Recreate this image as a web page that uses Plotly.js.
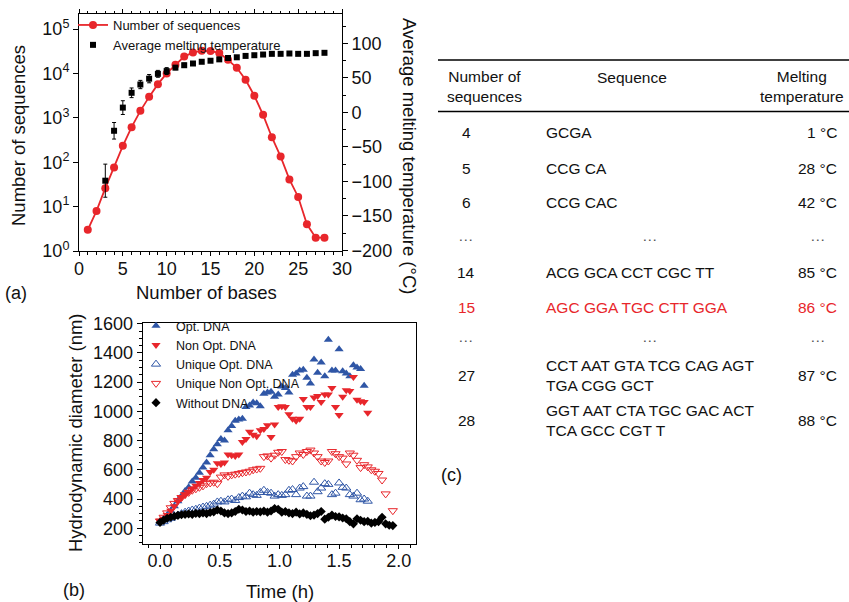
<!DOCTYPE html>
<html>
<head>
<meta charset="utf-8">
<script src="https://cdn.plot.ly/plotly-3.0.1.min.js"></script>
<style>html,body{margin:0;padding:0;background:#fff;}#chart{width:849px;height:602px;}</style>
</head>
<body>
<div id="chart"></div>
<script>
// ---------- Panel (a) data ----------
const bases = [1,2,3,4,5,6,7,8,9,10,11,12,13,14,15,16,17,18,19,20,21,22,23,24,25,26,27,28];
const numSequences = [3, 8, 26, 76, 234, 616, 1440, 2970, 5750, 10000, 15700, 24000, 29800, 32400, 32000, 29000, 20300, 13400, 7200, 3150, 1170, 366, 134, 41, 16.5, 4, 2, 2];
const tmBases = [3,4,5,6,7,8,9,10,11,12,13,14,15,16,17,18,19,20,21,22,23,24,25,26,27,28];
const tmAverage = [-99, -26.6, 7, 28.5, 40.5, 49, 56, 60, 65, 68.5, 71, 73.5, 75, 77, 79, 80, 82, 83, 84, 85, 85, 85.5, 85, 85, 86, 86.5];
const tmError = [24, 12, 10, 7, 6, 6, 5, 5, 3, 3, 2, 2, 2, 1.5, 1.5, 1.5, 1.5, 1.5, 1.5, 1.5, 1.5, 1.5, 1.5, 1.5, 1.5, 1.5];
const logTickVals = [1, 10, 100, 1000, 10000, 100000];
const logTickText = ['10<sup>0</sup>','10<sup>1</sup>','10<sup>2</sup>','10<sup>3</sup>','10<sup>4</sup>','10<sup>5</sup>'];

// ---------- Panel (b) data ----------
const timeH = [0,0.03,0.06,0.09,0.12,0.15,0.18,0.21,0.24,0.27,0.30,0.33,0.36,0.39,0.42,0.45,0.48,0.51,0.54,0.57,0.60,0.63,0.66,0.69,0.72,0.75,0.78,0.81,0.84,0.87,0.90,0.93,0.96,0.99,1.02,1.05,1.08,1.11,1.14,1.17,1.20,1.23,1.26,1.29,1.32,1.35,1.38,1.41,1.44,1.47,1.50,1.53,1.56,1.59,1.62,1.65,1.68,1.71,1.74,1.77,1.80,1.83,1.86,1.89,1.92,1.95];
const optDNA = [245, 265, 290, 320, 350, 385, 420, 455, 480, 520, 545, 580, 615, 650, 700, 740, 775, 810, 800, 870, 900, 935, 945, 950, 1030, 1040, 1060, 1055, 1035, 1120, 1130, 1135, 1100, 1115, 1170, 1160, 1130, 1250, 1260, 1280, 1285, 1230, 1190, 1355, 1265, 1335, 1240, 1490, 1280, 1280, 1425, 1275, 1260, 1240, 1315, 1300, 1290, 1175];
const nonOptDNA = [250, 265, 290, 320, 350, 385, 410, 430, 450, 470, 490, 510, 530, 545, 585, 600, 645, 640, 650, 705, 700, 695, 705, 790, 810, 860, 840, 830, 870, 880, 905, 825, 910, 1030, 1035, 1030, 980, 950, 935, 950, 1085, 1030, 1030, 1095, 1105, 1065, 1115, 1115, 1160, 1030, 975, 1100, 1145, 1140, 1235, 1080, 1070, 1065, 990];
const uniqueOptDNA = [235, 245, 258, 268, 280, 290, 300, 310, 318, 325, 330, 338, 345, 350, 358, 365, 380, 385, 380, 395, 400, 390, 410, 420, 415, 440, 430, 425, 445, 460, 445, 440, 420, 430, 425, 430, 460, 465, 430, 475, 485, 420, 420, 515, 450, 475, 505, 500, 430, 440, 510, 480, 475, 430, 420, 440, 395, 400, 385];
const uniqueNonOptDNA = [250, 275, 305, 340, 370, 390, 410, 430, 445, 460, 470, 480, 490, 505, 510, 515, 505, 550, 565, 555, 565, 570, 575, 580, 585, 590, 600, 605, 610, 690, 695, 680, 700, 720, 725, 670, 665, 660, 690, 715, 705, 725, 735, 715, 690, 660, 650, 660, 725, 710, 690, 680, 640, 715, 700, 665, 615, 635, 620, 600, 590, 575, 530, 435, null, 320];
const withoutDNA = [240, 255, 268, 275, 282, 288, 292, 295, 298, 295, 302, 300, 305, 300, 308, 312, 325, 318, 305, 300, 305, 315, 330, 325, 315, 318, 310, 315, 312, 318, 310, 318, 335, 330, 310, 315, 305, 300, 310, 298, 305, 295, 285, 290, 300, 315, 262, 275, 290, 280, 278, 270, 265, 245, 230, 265, 255, 245, 248, 235, 240, 245, 275, 230, 220, 218];

// ---------- Panel (c) table ----------
const tblHeaders = ['Number of<br>sequences', 'Sequence', 'Melting<br>temperature'];
const tblNum = ['4','5','6','…','14','15','…','27','28'];
const tblSeq = ['GCGA','CCG CA','CCG CAC','…','ACG GCA CCT CGC TT','AGC GGA TGC CTT GGA','…','CCT AAT GTA TCG CAG AGT<br>TGA CGG GCT','GGT AAT CTA TGC GAC ACT<br>TCA GCC CGT T'];
const tblTm = ['1 °C','28 °C','42 °C','…','85 °C','86 °C','…','87 °C','88 °C'];
const highlightIndex = 5;

// ---------- layout helpers ----------
const W = 849, H = 602;
const fx = p => p / W;
const fy = p => 1 - p / H;
const FONT = 'Liberation Sans, Arial, Helvetica, sans-serif';
const RED = '#e8262b', BLUE = '#2f56a6';
const rowY = [132, 168, 203, 235, 272, 307, 337, 375, 420];

const traces = [
  {x: bases, y: numSequences, type: 'scatter', mode: 'lines+markers', name: 'Number of sequences',
   line: {color: RED, width: 1.8}, marker: {color: RED, size: 8, symbol: 'circle'},
   xaxis: 'x', yaxis: 'y', legend: 'legend'},
  {x: tmBases, y: tmAverage, type: 'scatter', mode: 'markers', name: 'Average melting temperature',
   marker: {color: '#000', size: 6, symbol: 'square'},
   error_y: {type: 'data', array: tmError, visible: true, color: '#000', thickness: 1, width: 2},
   xaxis: 'x', yaxis: 'y2', legend: 'legend'},
  {x: timeH, y: optDNA, type: 'scatter', mode: 'markers', name: 'Opt. DNA',
   marker: {color: BLUE, size: 8, symbol: 'triangle-up'}, xaxis: 'x2', yaxis: 'y3', legend: 'legend2'},
  {x: timeH, y: nonOptDNA, type: 'scatter', mode: 'markers', name: 'Non Opt. DNA',
   marker: {color: RED, size: 8, symbol: 'triangle-down'}, xaxis: 'x2', yaxis: 'y3', legend: 'legend2'},
  {x: timeH, y: uniqueOptDNA, type: 'scatter', mode: 'markers', name: 'Unique Opt. DNA',
   marker: {color: BLUE, size: 8, symbol: 'triangle-up-open', line: {width: 1, color: BLUE}}, xaxis: 'x2', yaxis: 'y3', legend: 'legend2'},
  {x: timeH, y: uniqueNonOptDNA, type: 'scatter', mode: 'markers', name: 'Unique Non Opt. DNA',
   marker: {color: RED, size: 8, symbol: 'triangle-down-open', line: {width: 1, color: RED}}, xaxis: 'x2', yaxis: 'y3', legend: 'legend2'},
  {x: timeH, y: withoutDNA, type: 'scatter', mode: 'markers', name: 'Without DNA',
   marker: {color: '#000', size: 7, symbol: 'diamond'}, xaxis: 'x2', yaxis: 'y3', legend: 'legend2'}
];

const axBase = {showgrid: false, zeroline: false, showline: true, linecolor: '#000', linewidth: 1,
  ticks: 'outside', ticklen: 5, tickwidth: 1, tickcolor: '#000', automargin: false,
  tickfont: {family: FONT, size: 18, color: '#111'}};

const annotations = [];
function ann(text, px, py, opts) {
  annotations.push(Object.assign({text: text, x: fx(px), y: fy(py), xref: 'paper', yref: 'paper',
    showarrow: false, xanchor: 'center', yanchor: 'middle',
    font: {family: FONT, size: 18.5, color: '#111'}}, opts || {}));
}
// axis titles
ann('Number of sequences', 18, 136, {textangle: -90});
ann('Number of bases', 206, 292);
ann('Average melting temperature (°C)', 409, 156, {textangle: 90});
ann('Hydrodynamic diameter (nm)', 75, 433, {textangle: -90});
ann('Time (h)', 280, 591);
// panel labels
ann('(a)', 16, 293, {font: {family: FONT, size: 18, color: '#111'}});
ann('(b)', 74, 590, {font: {family: FONT, size: 18, color: '#111'}});
ann('(c)', 451, 475, {font: {family: FONT, size: 18, color: '#111'}});

// table
const tf = (c) => ({family: FONT, size: 15.5, color: c});
ann(tblHeaders[0], 445, 86.5, {xanchor: 'left', align: 'center', font: tf('#111')});
ann(tblHeaders[1], 632, 77, {font: tf('#111')});
ann(tblHeaders[2], 802, 86.5, {align: 'center', font: tf('#111')});
for (let i = 0; i < tblNum.length; i++) {
  const col = (i === highlightIndex) ? RED : '#111';
  const c2 = tblNum[i] === '…' ? '#555' : col;
  ann(tblNum[i], 466, rowY[i], {font: tf(c2)});
  if (tblSeq[i] === '…') ann(tblSeq[i], 650, rowY[i], {font: tf('#555')});
  else ann(tblSeq[i], 544, rowY[i], {xanchor: 'left', align: 'left', font: tf(col)});
  if (tblTm[i] === '…') ann(tblTm[i], 818, rowY[i], {font: tf('#555')});
  else ann(tblTm[i], 839, rowY[i], {xanchor: 'right', align: 'right', font: tf(col)});
}

const shapes = [
  {type: 'line', xref: 'paper', yref: 'paper', x0: fx(438), x1: fx(849), y0: fy(60), y1: fy(60), line: {color: '#000', width: 1.3}},
  {type: 'line', xref: 'paper', yref: 'paper', x0: fx(438), x1: fx(849), y0: fy(111.5), y1: fy(111.5), line: {color: '#000', width: 1.3}}
];

const layout = {
  width: W, height: H,
  margin: {l: 0, r: 0, t: 0, b: 0, autoexpand: false},
  paper_bgcolor: '#fff', plot_bgcolor: 'rgba(0,0,0,0)',
  font: {family: FONT, color: '#111'},
  xaxis: Object.assign({}, axBase, {domain: [fx(79), fx(342)], range: [0, 30], tick0: 0, dtick: 5, ticklen: 4,
    ticklabelstandoff: -3,
    mirror: 'ticks', anchor: 'y', minor: {dtick: 1, ticklen: 2.5, ticks: 'outside', tickcolor: '#000'}}),
  yaxis: Object.assign({}, axBase, {domain: [fy(251), fy(14)], type: 'log', range: [0, 5.34],
    tickvals: logTickVals, ticktext: logTickText, anchor: 'x'}),
  yaxis2: Object.assign({}, axBase, {overlaying: 'y', side: 'right', anchor: 'x', range: [-201, 142.8],
    tick0: 0, dtick: 50, minor: {dtick: 25, ticklen: 3, ticks: 'outside', tickcolor: '#000'}}),
  xaxis2: Object.assign({}, axBase, {domain: [fx(142.7), fx(415.5)], range: [-0.145, 2.14], tick0: 0, dtick: 0.5,
    tickformat: '.1f', mirror: true, anchor: 'y3', ticklen: 4, ticklabelstandoff: -4,
    minor: {dtick: 0.1, ticklen: 2.5, ticks: 'outside', tickcolor: '#000'}}),
  yaxis3: Object.assign({}, axBase, {domain: [fy(544), fy(323)], range: [92, 1605], tick0: 0, dtick: 200,
    mirror: true, anchor: 'x2', minor: {dtick: 50, ticklen: 2.5, ticks: 'outside', tickcolor: '#000'}}),
  legend: {x: fx(73), y: fy(10), xanchor: 'left', yanchor: 'top', bgcolor: 'rgba(0,0,0,0)',
    font: {family: FONT, size: 13, color: '#111'}, tracegroupgap: 0},
  legend2: {x: fx(136), y: fy(311), xanchor: 'left', yanchor: 'top', bgcolor: 'rgba(0,0,0,0)',
    font: {family: FONT, size: 12.5, color: '#111'}, tracegroupgap: 0},
  showlegend: true,
  annotations: annotations,
  shapes: shapes
};

Plotly.newPlot('chart', traces, layout, {displayModeBar: false, staticPlot: true});
</script>
</body>
</html>
